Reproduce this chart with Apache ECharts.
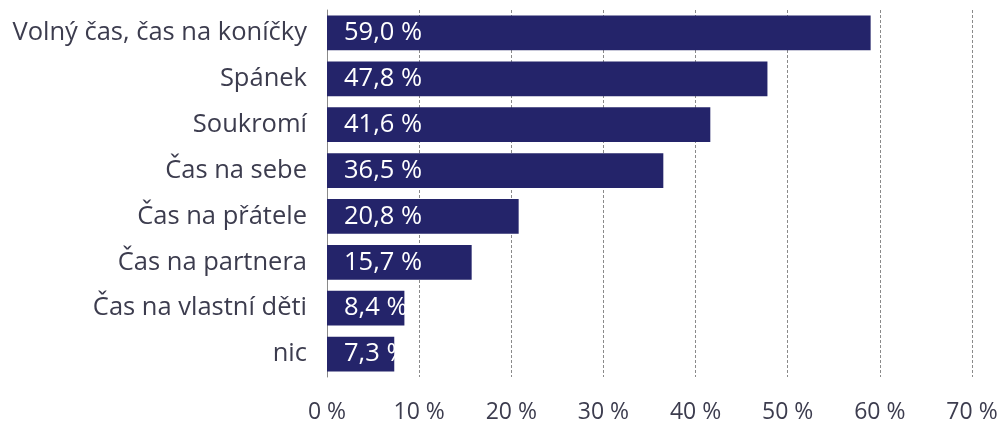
<!DOCTYPE html>
<html><head><meta charset="utf-8">
<script src="https://cdn.jsdelivr.net/npm/echarts@6/dist/echarts.min.js"></script>
<style>html,body{margin:0;padding:0;background:#fff}#c{width:1003px;height:426px}</style>
</head><body><div id="c"></div>
<script>
const categories = ["Volný čas, čas na koníčky","Spánek","Soukromí","Čas na sebe","Čas na přátele","Čas na partnera","Čas na vlastní děti","nic"];
const values = [59.0,47.8,41.6,36.5,20.8,15.7,8.4,7.3];
const xTicks = [0,10,20,30,40,50,60,70];
const font = "Open Sans";
const labelDist = 17;
const chart = echarts.init(document.getElementById('c'));
const fmt = v => v.toFixed(1).replace('.',',')+' %';
chart.setOption({
  animation:false,
  grid:{left:327,right:31,top:10,bottom:49,containLabel:false},
  xAxis:{type:'value',min:xTicks[0],max:xTicks[xTicks.length-1],interval:10,
    axisLine:{show:false},axisTick:{show:false},
    splitLine:{show:true,lineStyle:{color:'#8a8a8a',type:[3,2],width:1}},
    axisLabel:{margin:24,fontSize:23,color:'#3c3c4e',fontFamily:font,formatter:v=>v+' %'}},
  yAxis:{type:'category',data:categories,inverse:true,
    axisLine:{show:true,lineStyle:{color:'#8a8a8a',width:1}},axisTick:{show:false},
    axisLabel:{margin:20,fontSize:25.5,color:'#3c3c4e',fontFamily:font}},
  series:[{type:'bar',data:values,barWidth:'76%',
    itemStyle:{color:'#24246a'},
    label:{show:true,position:'insideLeft',distance:labelDist,color:'#ffffff',fontSize:25.5,fontFamily:font,
      formatter:p=>fmt(p.value)}}]
});
// clip labels near the bar end (as in the reference) using the axis scale
const x0 = chart.convertToPixel({xAxisIndex:0}, 0);
chart.setOption({series:[{data:values.map(v=>({
  value:v,
  label:{width:Math.max(0, chart.convertToPixel({xAxisIndex:0}, v) - x0 - labelDist + 19),overflow:'truncate',ellipsis:''}
}))}]});
</script></body></html>
